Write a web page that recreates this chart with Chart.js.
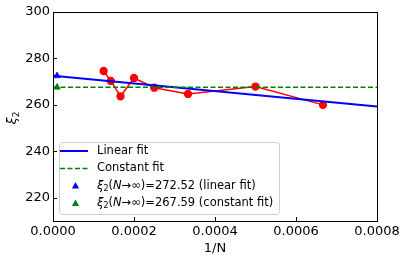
<!DOCTYPE html>
<html><head><meta charset="utf-8">
<script src="https://cdn.jsdelivr.net/npm/chart.js@4/dist/chart.umd.min.js"></script>
<style>html,body{margin:0;padding:0;background:#fff}#wrap{width:407px;height:262px;position:relative}</style>
</head><body><div id="wrap"><canvas id="c" width="407" height="262"></canvas></div>
<script>
// ---- data ----
const invN = [1/8000, 1/7000, 1/6000, 1/5000, 1/4000, 1/3000, 1/2000, 1/1500];
const xi2 = [274.6, 270.3, 263.7, 271.6, 267.4, 264.7, 267.9, 260.0];
const fitX = [0, 0.0008];
const linearFitY = [272.52, 259.3];
const constantFitY = [267.59, 267.59];
const extrapX = 0.00001;
const extrapLinear = 272.52;
const extrapConstant = 267.59;
const xTicks = [0, 0.0002, 0.0004, 0.0006, 0.0008];
const yTicks = [220, 240, 260, 280, 300];
const legendLabels = ['Linear fit', 'Constant fit', '=272.52 (linear fit)', '=267.59 (constant fit)'];

const FONT = 'DejaVu Sans';
const pts = (xs, ys) => xs.map((x, i) => ({x: x, y: ys[i]}));

function richText(ctx, x, y, parts) {
  let cx = x;
  parts.forEach(p => {
    ctx.font = p.font;
    ctx.fillText(p.t, cx, y + (p.dy || 0));
    cx += ctx.measureText(p.t).width;
  });
}

const decor = {
  id: 'decor',
  afterDraw(chart) {
    const ctx = chart.ctx, a = chart.chartArea;
    const xs = chart.scales.x, ys = chart.scales.y;
    ctx.save();
    ctx.strokeStyle = '#000'; ctx.lineWidth = 1;
    ctx.strokeRect(Math.round(a.left) + 0.5, Math.round(a.top) + 0.5, Math.round(a.right - a.left), Math.round(a.bottom - a.top));
    ctx.beginPath();
    xTicks.forEach(v => { const px = Math.round(xs.getPixelForValue(v)) + 0.5; ctx.moveTo(px, a.bottom); ctx.lineTo(px, a.bottom - 4); });
    yTicks.forEach(v => { const py = Math.round(ys.getPixelForValue(v)) + 0.5; ctx.moveTo(a.left, py); ctx.lineTo(a.left + 4, py); });
    ctx.stroke();

    // y title
    ctx.save();
    ctx.translate(16, 118);
    ctx.rotate(-Math.PI / 2);
    ctx.fillStyle = '#000';
    ctx.textBaseline = 'alphabetic';
    ctx.font = 'italic 13px ' + FONT;
    const w1 = ctx.measureText('ξ').width;
    ctx.font = '9px ' + FONT;
    const w2 = ctx.measureText('2').width;
    richText(ctx, -(w1 + w2) / 2, 0, [
      {t: 'ξ', font: 'italic 13px ' + FONT},
      {t: '2', font: '9px ' + FONT, dy: 3}
    ]);
    ctx.restore();

    // legend
    const L = 59, T = 142, W = 220, H = 72;
    ctx.fillStyle = 'rgba(255,255,255,0.8)';
    ctx.strokeStyle = '#cccccc';
    ctx.lineWidth = 1;
    ctx.beginPath();
    ctx.roundRect(L + 0.5, T + 0.5, W, H, 3);
    ctx.fill(); ctx.stroke();

    const rows = [151, 168.5, 186, 203.5];
    ctx.strokeStyle = '#0000ff'; ctx.lineWidth = 2; ctx.setLineDash([]);
    ctx.beginPath(); ctx.moveTo(60, rows[0]); ctx.lineTo(88, rows[0]); ctx.stroke();
    ctx.strokeStyle = '#008000'; ctx.lineWidth = 1.5; ctx.setLineDash([5, 2.5]);
    ctx.beginPath(); ctx.moveTo(60, rows[1]); ctx.lineTo(88, rows[1]); ctx.stroke();
    ctx.setLineDash([]);
    const tri = (cx, cy, col) => {
      ctx.fillStyle = col; ctx.beginPath();
      ctx.moveTo(cx, cy - 4); ctx.lineTo(cx + 3.6, cy + 2.5); ctx.lineTo(cx - 3.6, cy + 2.5); ctx.closePath(); ctx.fill();
    };
    tri(75.5, rows[2], '#0000ff');
    tri(75.5, rows[3], '#008000');

    ctx.fillStyle = '#000';
    ctx.textBaseline = 'middle';
    const fs = 11.5;
    const reg = fs + 'px ' + FONT, it = 'italic ' + fs + 'px ' + FONT, sub = '8px ' + FONT;
    richText(ctx, 97, rows[0], [{t: legendLabels[0], font: reg}]);
    richText(ctx, 97, rows[1], [{t: legendLabels[1], font: reg}]);
    [2, 3].forEach(i => {
      richText(ctx, 97, rows[i], [
        {t: 'ξ', font: it}, {t: '2', font: sub, dy: 2.5}, {t: '(', font: reg},
        {t: 'N', font: it}, {t: '→∞)', font: reg}, {t: legendLabels[i], font: reg}
      ]);
    });
    ctx.restore();
  }
};

new Chart(document.getElementById('c'), {
  type: 'scatter',
  data: {
    datasets: [
      {data: pts(invN, xi2), showLine: true, borderColor: '#ff0000', backgroundColor: '#ff0000', borderWidth: 1.5, pointRadius: 3.4, pointHoverRadius: 3.4, order: 4},
      {data: pts(fitX, linearFitY), showLine: true, borderColor: '#0000ff', borderWidth: 2, pointRadius: 0, order: 3},
      {data: pts(fitX, constantFitY), showLine: true, borderColor: '#008000', borderWidth: 1.5, borderDash: [5, 2.5], pointRadius: 0, order: 2},
      {data: [{x: extrapX, y: extrapLinear}], pointStyle: 'triangle', backgroundColor: '#0000ff', borderColor: '#0000ff', pointRadius: 3.6, order: 1},
      {data: [{x: extrapX, y: extrapConstant}], pointStyle: 'triangle', backgroundColor: '#008000', borderColor: '#008000', pointRadius: 3.6, order: 1}
    ]
  },
  options: {
    responsive: false, animation: false, devicePixelRatio: 1,
    layout: {padding: {left: 0, right: 30, top: 12, bottom: 0}},
    plugins: {legend: {display: false}, tooltip: {enabled: false}},
    scales: {
      x: {
        type: 'linear', min: 0, max: 0.0008,
        grid: {display: false, drawTicks: false}, border: {display: false},
        afterBuildTicks: s => { s.ticks = xTicks.map(v => ({value: v})); },
        afterFit: s => { s.height = 41; },
        ticks: {color: '#000', font: {family: FONT, size: 13}, padding: 3, maxRotation: 0, callback: v => Number(v).toFixed(4)},
        title: {display: true, text: '1/N', color: '#000', font: {family: FONT, size: 13}, padding: {top: 0, bottom: 6}}
      },
      y: {
        min: 210, max: 300,
        grid: {display: false, drawTicks: false}, border: {display: false},
        afterBuildTicks: s => { s.ticks = yTicks.map(v => ({value: v})); },
        afterFit: s => { s.width = 53; },
        ticks: {color: '#000', font: {family: FONT, size: 13}, padding: 3, callback: v => String(v)}
      }
    }
  },
  plugins: [decor]
});
</script></body></html>
